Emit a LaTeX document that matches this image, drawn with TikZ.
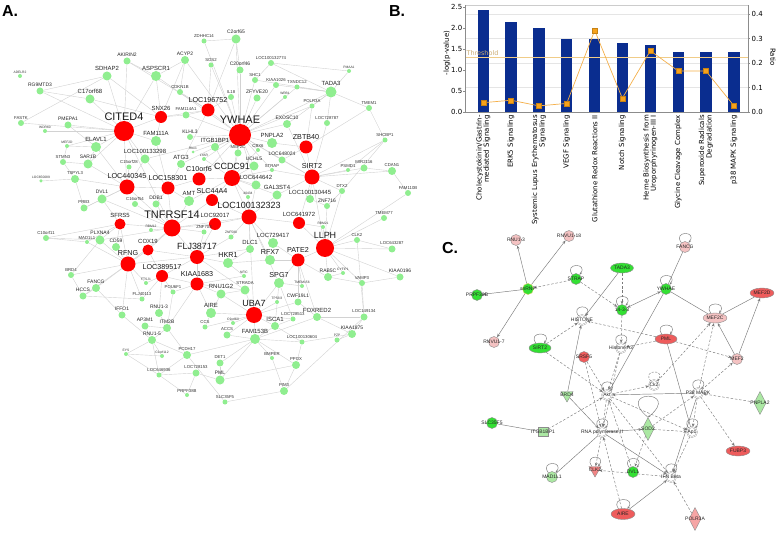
\documentclass[tikz,border=0pt]{standalone}
\usepackage{fontspec}
\setmainfont{Liberation Sans}
\newfontfamily\dvs{DejaVu Sans}
\usetikzlibrary{shapes.geometric,arrows.meta}
\pgfdeclarelayer{bg}
\pgfdeclarelayer{paper}
\pgfsetlayers{paper,bg,main}
\definecolor{gA}{HTML}{90EE90}
\definecolor{rA}{HTML}{FF0000}
\definecolor{eA}{HTML}{D2D2D2}
\definecolor{barb}{HTML}{0A2D8F}
\definecolor{ratioc}{HTML}{F5B04A}
\definecolor{ratiom}{HTML}{F7A21B}
\definecolor{thr}{HTML}{F0CC88}
\definecolor{gC}{HTML}{33E033}
\definecolor{lgC}{HTML}{ABE8A3}
\definecolor{pkC}{HTML}{F4C2C2}
\definecolor{rdC}{HTML}{EE5C5C}
\definecolor{edC}{HTML}{7A7A7A}
\tikzset{
 gnode/.style={circle, fill=gA, inner sep=0},
 rnode/.style={circle, fill=rA, inner sep=0},
 lt/.style={font=\fontsize{3.3}{3.6}\selectfont, inner sep=0.4bp, text=black!80},
 la/.style={font=\fontsize{4.3}{4.6}\selectfont, inner sep=0.4bp, text=black!80},
 lb/.style={font=\fontsize{5}{5.4}\selectfont, inner sep=0.4bp, text=black!85},
 lc/.style={font=\fontsize{6}{6.4}\selectfont, inner sep=0.4bp, text=black!85},
 ld/.style={font=\fontsize{7.2}{7.6}\selectfont, inner sep=0.4bp, text=black!90},
 le/.style={font=\fontsize{9}{9.4}\selectfont, inner sep=0.4bp, text=black!90},
 lf/.style={font=\fontsize{11}{11.4}\selectfont, inner sep=0.3bp, text=black!90},
 ea/.style={draw=eA, line width=0.4bp},
 ptitle/.style={font=\bfseries\fontsize{16}{16}\selectfont, inner sep=0},
 ccirc/.style={circle, draw=black!45, line width=0.4bp, minimum size=11bp, inner sep=0},
 cwhite/.style={circle, draw=black!40, line width=0.35bp, double=white, double distance=0.7bp, fill=white, minimum size=10bp, inner sep=0},
 cell/.style={ellipse, draw=black!45, line width=0.4bp, minimum width=24bp, minimum height=10bp, inner sep=0},
 cdia/.style={diamond, draw=black!45, line width=0.4bp, minimum width=12bp, minimum height=23bp, inner sep=0},
 ctri/.style={regular polygon, regular polygon sides=3, shape border rotate=180, draw=black!45, line width=0.4bp, minimum size=14bp, inner sep=0},
 ctrap/.style={rectangle, draw=black!45, line width=0.4bp, minimum width=10bp, minimum height=9bp, inner sep=0},
 cl5/.style={font=\fontsize{5}{5}\selectfont, inner sep=0, text=black!85},
 cen/.style={draw=edC, line width=0.45bp},
 ce/.style={cen, -{Stealth[length=3.5bp,width=2.8bp]}},
 ced/.style={ce, dash pattern=on 2.5bp off 1.8bp},
 cloop/.style={draw=edC, line width=0.45bp, -{Stealth[length=2.5bp,width=2.2bp]}},
 cat/.style={font=\dvs\fontsize{7}{7.4}\selectfont, rotate=90, anchor=east, align=right, inner sep=0},
 tk/.style={font=\dvs\fontsize{7}{7.4}\selectfont, inner sep=0.5bp},
 rmark/.style={rectangle, fill=ratiom, draw=ratiom!80!black, line width=0.3bp, minimum size=5bp, inner sep=0},
}
\newcommand\GN[6]{\node[gnode,minimum size=#4bp,label={[#5]above:#6}] (#1) at (#2,#3) {};}
\newcommand\RN[6]{\node[rnode,minimum size=#4bp,label={[#5]above:#6}] (#1) at (#2,#3) {};}
\newcommand\SL[2][]{\draw[cloop,#1] (#2.130) .. controls +(-9,-12) and +(9,-12) .. (#2.50);}
\newcommand\EA[2]{\foreach \t in {#2} {\draw[ea] (#1) -- (\t);}}
\begin{document}
\begin{tikzpicture}[x=1bp,y=-1bp]
\useasboundingbox (0,0) rectangle (778,533);
\begin{pgfonlayer}{paper}
\fill[white] (0,0) rectangle (778,533);
\end{pgfonlayer}
\node[ptitle] (tA) at (10,11) {A.};
\node[ptitle] (tB) at (397,11) {B.};
\node[ptitle] (tC) at (450,248) {C.};

% ---------------- Panel A ----------------
\GN{adel}{20}{76}{4}{lt}{ADELR2}
\GN{rg9}{40}{91}{7}{lb}{RG9MTD3}
\GN{sdh}{107}{76}{9}{lc}{SDHAP2}
\GN{akir}{127}{61}{7}{lb}{AKIRIN2}
\GN{acyp}{185}{60}{8}{lb}{ACYP2}
\GN{aspc}{156}{76}{10}{lc}{ASPSCR1}
\GN{c17}{90}{99}{9}{lc}{C17orf68}
\GN{cdkn}{180}{92}{6}{la}{CDKN1B}
\GN{fastk}{21}{123}{6}{la}{FASTK}
\GN{pmep}{68}{125}{7}{lb}{PMEPA1}
\GN{wdr}{45}{131}{4}{lt}{WDR60}
\RN{cited}{124}{131}{20}{lf}{CITED4}
\RN{snx}{161}{117}{12}{lc}{SNX26}
\GN{famA}{186}{115}{7}{la}{FAM114A1}
\GN{zdh}{204}{41}{5}{la}{ZDHHC14}
\GN{ctwo}{236}{39}{9}{lb}{C2orf65}
\GN{sos}{211}{65}{5}{la}{SOS2}
\GN{ctwenty}{240}{70}{7}{lb}{C20orf46}
\GN{locB}{271}{63}{6}{la}{LOC100132774}
\GN{pmaa}{349}{71}{4}{lt}{PMAA1}
\GN{shc}{255}{80}{6}{la}{SHC1}
\GN{kiaaA}{276}{85}{6}{la}{KIAA1026}
\GN{txn}{297}{87}{5}{la}{TXNDC12}
\GN{il}{231}{97}{6}{la}{IL18}
\GN{zfy}{257}{98}{7}{lb}{ZFYVE20}
\GN{wrb}{285}{97}{4}{lt}{WRB1}
\GN{tada}{331}{92}{11}{lc}{TADA3}
\GN{polr}{312}{106}{5}{la}{POLR3A}
\GN{tmemA}{369}{108}{6}{la}{TMEM1}
\RN{locC}{208}{110}{13}{ld}{LOC196752}
\RN{ywhae}{240}{135}{22}{lf}{YWHAE}
\GN{exo}{287}{124}{8}{lb}{EXOSC10}
\GN{locD}{327}{123}{6}{la}{LOC728787}
\GN{shcbp}{385}{140}{5}{la}{SHCBP1}
\GN{elavl}{96}{147}{10}{lc}{ELAVL1}
\GN{mefd}{67}{146}{4}{lt}{MEF2D}
\GN{fam111}{156}{141}{10}{lc}{FAM111A}
\GN{loc298}{145}{159}{9}{lc}{LOC100133298}
\GN{atg3}{181}{164}{8}{lc}{ATG3}
\GN{sar1b}{88}{164}{9}{lb}{SAR1B}
\GN{stmn3}{63}{162}{6}{la}{STMN3}
\GN{c15}{129}{167}{5}{la}{C15orf28}
\GN{tspyl3}{75}{179}{8}{la}{TSPYL3}
\GN{loc089}{41}{181}{3.5}{lt}{LOC650089}
\RN{loc345}{127}{187}{15}{ld}{LOC440345}
\RN{loc301}{168}{188}{13}{ld}{LOC158301}
\GN{amt}{189}{201}{10}{lc}{AMT}
\GN{dvl1}{102}{199}{9}{lb}{DVL1}
\GN{c16}{135}{204}{6}{la}{C16orf54}
\GN{ddb1}{156}{204}{7}{lb}{DDB1}
\GN{prb3}{84}{208}{7}{la}{PRB3}
\RN{sfrs5}{120}{224}{11}{lc}{SFRS5}
\RN{tnf}{172}{228}{17}{lf}{TNFRSF14}
\GN{rbm12}{151}{230}{4}{lt}{RBM12}
\GN{c10orf11}{46}{238}{6}{la}{C10orf11}
\GN{mad1l1}{87}{242}{4}{la}{MAD1L1}
\GN{plxna4}{100}{240}{9}{lb}{PLXNA4}
\GN{cd59}{116}{247}{8}{lb}{CD59}
\RN{cox19}{148}{250}{11}{lc}{COX19}
\GN{klhl3}{190}{137}{6}{lb}{KLHL3}
\GN{itgb}{215}{147}{8}{lc}{ITGB1BP1}
\GN{pnpla2}{272}{143}{10}{lc}{PNPLA2}
\RN{zbtb40}{306}{147}{13}{ld}{ZBTB40}
\GN{mef2c}{238}{153}{7}{la}{MEF2C}
\GN{cbx6}{258}{150}{4}{la}{CBX6}
\GN{rbx}{193}{152}{3}{lt}{Rbx1}
\GN{lyar}{204}{159}{4}{lt}{LYAR}
\GN{uchl5}{254}{166}{9}{lb}{UCHL5}
\GN{loc024}{282}{160}{7}{lb}{LOC648024}
\GN{strap}{272}{170}{4}{la}{STRAP}
\RN{sirt2}{312}{177}{15}{ld}{SIRT2}
\GN{psmd1}{348}{170}{4}{la}{PSMD1}
\GN{mir2116}{364}{168}{7}{la}{MIR2116}
\GN{cdan1}{392}{171}{8}{la}{CDAN1}
\GN{fam110b}{408}{193}{6}{la}{FAM110B}
\RN{c10orf6}{199}{179}{13}{ld}{C10orf6}
\RN{ccdc91}{232}{178}{16}{le}{CCDC91}
\GN{loc642}{256}{185}{9}{lc}{LOC644642}
\GN{dtx2}{342}{191}{6}{la}{DTX2}
\RN{slc44a4}{212}{200}{12}{ld}{SLC44A4}
\GN{n40434}{248}{197}{4}{lt}{40434}
\GN{gal3st4}{277}{195}{9}{lc}{GAL3ST4}
\GN{loc445}{310}{199}{8}{lc}{LOC100130445}
\GN{znf716}{327}{206}{6}{lb}{ZNF716}
\RN{loc323}{249}{217}{15}{le}{LOC100132323}
\RN{loc017}{215}{224}{12}{lc}{LOC92017}
\RN{loc972}{299}{223}{12}{lc}{LOC641972}
\GN{znf703}{204}{232}{5}{la}{ZNF703}
\GN{znf580}{231}{237}{5}{lt}{ZNF580}
\GN{rbm21}{323}{227}{4}{lt}{RBM21}
\GN{clk2}{357}{240}{6}{la}{CLK2}
\GN{loc417}{273}{243}{10}{lc}{LOC729417}
\GN{dlc1}{250}{249}{8}{lc}{DLC1}
\RN{llph}{325}{248}{18}{le}{LLPH}
\GN{tmem77}{384}{218}{6}{la}{TMEM77}
\GN{loc287}{392}{249}{7}{la}{LOC643287}
\GN{kiaa0196}{400}{277}{7}{lb}{KIAA0196}
\RN{rfng}{128}{264}{15}{ld}{RFNG}
\GN{brd4}{71}{275}{6}{la}{BRD4}
\RN{loc517}{162}{276}{12}{ld}{LOC389517}
\GN{fancg}{96}{288}{8}{lb}{FANCG}
\GN{hccs}{83}{296}{7}{lb}{HCCS}
\GN{ftsj1}{146}{283}{4}{lt}{FTSJ1}
\GN{pou6f1}{173}{292}{5}{la}{POU6F1}
\GN{flj40113}{142}{299}{5}{la}{FLJ40113}
\GN{iffo1}{122}{315}{7}{lb}{IFFO1}
\GN{rnu13}{159}{313}{8}{lb}{RNU1-3}
\GN{ap3m1}{145}{326}{7}{lb}{AP3M1}
\GN{itm2b}{167}{328}{8}{lb}{ITM2B}
\GN{rnu15}{152}{340}{8}{lb}{RNU1-5}
\GN{eys}{126}{354}{4}{lt}{EYS}
\GN{c1orf112}{162}{356}{4}{lt}{C1orf112}
\GN{loc936}{159}{375}{5}{la}{LOC646936}
\GN{prpf}{187}{395}{4}{la}{PRPF38B}
\RN{flj38717}{197}{257}{14}{le}{FLJ38717}
\RN{pate2}{298}{260}{13}{ld}{PATE2}
\GN{hkr1}{228}{263}{10}{ld}{HKR1}
\GN{rfx7}{270}{260}{10}{ld}{RFX7}
\RN{kiaa1683}{197}{284}{13}{ld}{KIAA1683}
\GN{nfic}{244}{276}{4}{lt}{NFIC}
\GN{spg7}{279}{283}{10}{ld}{SPG7}
\GN{rab5c}{328}{277}{8}{lb}{RAB5C}
\GN{cyfip1}{343}{273}{4}{lt}{CYFIP1}
\GN{vamp3}{362}{283}{6}{la}{VAMP3}
\GN{tmem156}{302}{286}{4}{lt}{TMEM156}
\GN{strada}{245}{290}{9}{la}{STRADA}
\GN{rnu1g2}{221}{294}{9}{lc}{RNU1G2}
\GN{tps}{277}{302}{4}{lt}{TP53I3}
\GN{cwf19l1}{298}{302}{7}{lb}{CWF19L1}
\RN{uba7}{254}{315}{16}{le}{UBA7}
\GN{aire}{211}{313}{10}{lc}{AIRE}
\GN{foxred2}{317}{317}{8}{lc}{FOXRED2}
\GN{c9orf60}{233}{323}{4}{lt}{C9orf60}
\GN{loc513}{293}{319}{5}{la}{LOC728513}
\GN{isca1}{275}{326}{8}{lc}{ISCA1}
\GN{loc134}{364}{317}{7}{la}{LOC149134}
\GN{kiaa1875}{352}{334}{8}{lb}{KIAA1875}
\GN{p2p}{337}{340}{5}{lt}{PZP}
\GN{ppox}{296}{365}{8}{la}{PPOX}
\GN{loc604}{302}{342}{5}{la}{LOC100130604}
\GN{fam153b}{255}{339}{10}{lc}{FAM153B}
\GN{accs}{227}{335}{7}{la}{ACCS}
\GN{ccs}{205}{327}{5}{la}{CCS}
\GN{pcdh17}{187}{355}{8}{la}{PCDH17}
\GN{det1}{220}{363}{7}{la}{DET1}
\GN{bmper}{272}{358}{4}{la}{BMPER}
\GN{loc153}{196}{373}{7}{la}{LOC728153}
\GN{pml}{220}{380}{9}{lb}{PML}
\GN{slc35f5}{225}{402}{5}{la}{SLC35F5}
\GN{pim3}{284}{391}{8}{la}{PIM3}

\begin{pgfonlayer}{bg}
\EA{cited}{akir,rg9,c17,fastk,pmep,wdr,snx,elavl,sar1b,loc298,fam111,loc345,aspc,tnf,mefd,sdh}
\EA{ywhae}{acyp,zdh,ctwo,sos,ctwenty,shc,kiaaA,il,zfy,tada,polr,exo,locC,famA,klhl3,itgb,pnpla2,mef2c,cbx6,lyar,uchl5,loc024,strap,ccdc91,atg3,c10orf6,loc642,sirt2,loc298,wrb,txn,aspc,rbx}
\EA{snx}{aspc,acyp,c17,famA,locC,fam111,sdh}
\EA{locC}{ctwo,sos,cdkn,famA,il,atg3,akir}
\EA{tada}{shc,locB,pmaa,tmemA,polr,exo,locD,txn,kiaaA}
\EA{sirt2}{zbtb40,locD,psmd1,mir2116,loc024,gal3st4,loc445,dtx2,shcbp,cdan1,loc972,llph,strap,exo}
\EA{zbtb40}{pnpla2,loc024,tmemA,polr}
\EA{ccdc91}{c10orf6,loc642,mef2c,uchl5,itgb,slc44a4,loc323,amt,gal3st4,lyar,cbx6,strap,n40434}
\EA{tnf}{loc345,loc301,ddb1,c16,sfrs5,rbm12,cox19,flj38717,loc017,amt,slc44a4,loc323,dvl1,znf703,plxna4,rfng}
\EA{loc345}{sar1b,c15,dvl1,tspyl3,loc298,loc301,elavl,prb3}
\EA{loc301}{atg3,ddb1,c10orf6,amt,fam111,loc298}
\EA{loc323}{slc44a4,loc017,loc972,gal3st4,loc642,znf580,dlc1,loc417,n40434,uba7,spg7,rfx7}
\EA{llph}{loc972,clk2,znf716,rbm21,pate2,loc287,tmem77,kiaa0196,rab5c,vamp3,cyfip1,fam110b,dtx2}
\EA{pate2}{rfx7,spg7,loc417,rab5c,tmem156,cwf19l1,foxred2}
\EA{flj38717}{hkr1,kiaa1683,dlc1,znf703,cox19,loc517,loc017,rfng,strada,znf580}
\EA{kiaa1683}{rnu1g2,loc517,pou6f1,strada,nfic,aire,itm2b}
\EA{uba7}{rnu1g2,aire,isca1,fam153b,spg7,strada,cwf19l1,tps,c9orf60,ccs,accs,loc513}
\EA{rfng}{brd4,fancg,cd59,plxna4,cox19,hccs,flj40113,ftsj1,sfrs5,iffo1,mad1l1}
\EA{loc517}{ftsj1,pou6f1,flj40113,rnu13,cox19}
\EA{fam153b}{accs,isca1,det1,pcdh17,loc604,bmper,foxred2,ppox,pml}
\EA{sfrs5}{cd59,plxna4,dvl1,c10orf11,mad1l1}
\EA{itm2b}{rnu13,ap3m1,rnu15,pou6f1,pcdh17}
\EA{rnu15}{ap3m1,eys,c1orf112,iffo1,pcdh17,loc936}
\EA{eys}{c1orf112,loc936}
\EA{loc936}{loc153,pcdh17}
\EA{pml}{ppox,loc153,det1}
\EA{slc35f5}{pim3,pcdh17}
\EA{pim3}{ppox,loc134,bmper}
\EA{prpf}{loc153,loc936}
\EA{loc134}{foxred2,kiaa1875,clk2,vamp3}
\EA{kiaa1875}{p2p,foxred2,loc604}
\EA{hccs}{fancg,brd4,flj40113}
\EA{fancg}{iffo1}
\EA{brd4}{plxna4}
\EA{c10orf11}{plxna4,mad1l1}
\EA{prb3}{dvl1,tspyl3}
\EA{tspyl3}{loc089,stmn3}
\EA{stmn3}{mefd,sar1b}
\EA{elavl}{sar1b,mefd,pmep}
\EA{rbm21}{loc972}
\EA{clk2}{loc287}
\EA{cdan1}{mir2116,fam110b}
\EA{shcbp}{psmd1,dtx2}
\EA{tmemA}{shcbp}
\EA{kiaa0196}{vamp3}
\EA{znf716}{dtx2,loc445}
\EA{rg9}{sdh,c17}
\EA{fastk}{sdh}
\EA{akir}{aspc}
\EA{acyp}{aspc,cdkn}
\EA{ctwo}{zdh,ctwenty}
\EA{shc}{locB}
\EA{locB}{pmaa}
\EA{aire}{ccs,rnu1g2}
\EA{rnu1g2}{strada}
\EA{hkr1}{dlc1,rfx7,nfic}
\EA{spg7}{tmem156,isca1,loc513}
\EA{cwf19l1}{foxred2}
\EA{loc604}{ppox}
\EA{rab5c}{cyfip1,vamp3}
\EA{isca1}{loc513,loc604}
\end{pgfonlayer}

% ---------------- Panel B ----------------
\foreach \v in {0.1,0.2,0.3,0.4} {\draw[black!10, line width=0.3bp] (465,{112-245*\v}) -- (748,{112-245*\v});}
\draw[black!20, line width=0.4bp] (465,5) -- (748,5);
\foreach \x/\h in {483.3/2.42,511/2.14,539/2.0,566.7/1.73,594.7/1.73,622.3/1.65,650.3/1.6,678.3/1.43,706/1.43,734/1.43}
 {\fill[barb] ({\x-5.6},112) rectangle ({\x+5.6},{112-42*\h});}
\draw[thr, line width=0.7bp] (465,57) -- (748,57);
\node[font=\dvs\fontsize{6.5}{7}\selectfont, text=thr!85!black, inner sep=0] (thrl) at (482.5,53.3) {Threshold};
\draw[black!45, line width=0.5bp] (465,5) -- (465,112) -- (748,112) -- (748,5);
\foreach \v [count=\i] in {0.0,0.5,1.0,1.5,2.0,2.5} {
 \draw[black!45, line width=0.4bp] (463,{112-42*\v}) -- (465,{112-42*\v});
 \node[tk, anchor=east] (yl\i) at (463,{112-42*\v}) {\v};}
\foreach \v [count=\i] in {0.0,0.1,0.2,0.3,0.4} {
 \draw[black!45, line width=0.4bp] (748,{112-245*\v}) -- (750,{112-245*\v});
 \node[tk, anchor=west] (yr\i) at (751,{112-245*\v}) {\v};}
\node[tk, rotate=90] (ylab) at (447,53) {-log(p-value)};
\node[tk, rotate=-90] (rlab) at (773,57) {Ratio};
\foreach \x/\r [count=\i] in {483.3/0.038,511/0.048,539/0.025,566.7/0.035,594.7/0.333,622.3/0.056,650.3/0.25,678.3/0.167,706/0.167,734/0.025}
 {\coordinate (r\i) at (\x,{112-245*\r});}
\draw[ratioc, line width=0.7bp] (r1) -- (r2) -- (r3) -- (r4) -- (r5) -- (r6) -- (r7) -- (r8) -- (r9) -- (r10);
\foreach \i in {1,...,10} {\node[rmark] (m\i) at (r\i) {};}
\node[cat] (k1) at (483.3,115) {Cholecystokinin/Gastrin-\\mediated Signaling};
\node[cat] (k2) at (511,115) {ERK5 Signaling};
\node[cat] (k3) at (539,115) {Systemic Lupus Erythematosus\\Signaling};
\node[cat] (k4) at (566.7,115) {VEGF Signaling};
\node[cat] (k5) at (594.7,115) {Glutathione Redox Reactions II};
\node[cat] (k6) at (622.3,115) {Notch Signaling};
\node[cat] (k7) at (650.3,115) {Heme Biosynthesis from\\Uroporphyrinogen-III I};
\node[cat] (k8) at (678.3,115) {Glycine Cleavage Complex};
\node[cat] (k9) at (706,115) {Superoxide Radicals\\Degradation};
\node[cat] (k10) at (734,115) {p38 MAPK Signaling};

% ---------------- Panel C ----------------
\node[ccirc, fill=pkC, label={[cl5]center:RNU1-3}] (Crnu13) at (516,240) {};
\node[ccirc, fill=pkC, label={[cl5]center:RNVU1-18}] (Crnvu18) at (569,236) {};
\node[ccirc, fill=gC, label={[cl5]center:PRPF38B}] (Cprpf) at (477,295) {};
\node[ccirc, fill=gC, draw=yellow!60!gray, label={[cl5]center:snRNP}] (Csn) at (528,289) {};
\node[ccirc, fill=pkC, label={[cl5]center:RNVU1-7}] (Crnvu7) at (494,342) {};
\node[ccirc, fill=gC, label={[cl5]center:STRAP}] (Cstrap) at (576,279) {};
\node[cell, fill=gC, minimum width=22bp, label={[cl5]center:SIRT2}] (Csirt2) at (540,348) {};
\node[cwhite, label={[cl5]center:HISTONE}] (Chist) at (582,320) {};
\node[ccirc, fill=rdC, label={[cl5]center:SRSF5}] (Csrsf5) at (584,357) {};
\node[cell, fill=gC, minimum width=23bp, label={[cl5]center:TADA3}] (Ctada3) at (622,268) {};
\node[ccirc, fill=pkC, label={[cl5]center:FANCG}] (Cfancg) at (685,247) {};
\node[ccirc, fill=gC, label={[cl5]center:YWHAE}] (Cywhae) at (666,289) {};
\node[ccirc, fill=gC, label={[cl5]center:14-3-3}] (C1433) at (622,310) {};
\node[cell, fill=rdC, label={[cl5]center:MEF2D}] (Cmef2d) at (762,293) {};
\node[cell, fill=pkC, label={[cl5]center:MEF2C}] (Cmef2c) at (715,318) {};
\node[cell, fill=rdC, minimum width=22bp, label={[cl5]center:PML}] (Cpml) at (666,339) {};
\node[cwhite, label={[cl5]center:Histone h3}] (Ch3) at (621,348) {};
\node[ccirc, fill=pkC, label={[cl5]center:MEF2}] (Cmef2) at (737,359) {};
\node[ctri, fill=lgC, label={[cl5]center:BRD4}] (Cbrd4) at (567,395) {};
\node[cwhite, label={[cl5]center:Akt}] (Cakt) at (607,395) {};
\node[cwhite, label={[cl5]center:Ck2}] (Cck2) at (654,385) {};
\node[cwhite, label={[cl5]center:P38 MAPK}] (Cp38) at (698,393) {};
\node[cdia, fill=lgC, label={[cl5]center:PNPLA2}] (Cpnpla2) at (760,403) {};
\node[ccirc, fill=gC, label={[cl5]center:SLC35F5}] (Cslc) at (492,423) {};
\node[ctrap, fill=lgC, label={[cl5]center:ITGB1BP1}] (Citgb) at (543,432) {};
\node[cwhite, label={[cl5]center:RNA polymerase II}] (Crna) at (602,432) {};
\node[cdia, fill=lgC, label={[cl5]center:SOD2}] (Csod2) at (648,429) {};
\node[cwhite, label={[cl5]center:Ap1}] (Cap1) at (692,432) {};
\node[cell, fill=rdC, label={[cl5]center:FUBP3}] (Cfubp3) at (738,451) {};
\node[ccirc, fill=lgC, label={[cl5]center:MAD1L1}] (Cmad) at (552,477) {};
\node[ctri, fill=rdC!75, label={[cl5]center:CLK2}] (Cclk2) at (595,470) {};
\node[ccirc, fill=gC, label={[cl5]center:DVL1}] (Cdvl1) at (633,472) {};
\node[cwhite, label={[cl5]center:IFN Beta}] (Cifnb) at (671,477) {};
\node[cell, fill=rdC, minimum height=11bp, label={[cl5]center:AIRE}] (Caire) at (623,514) {};
\node[cdia, fill=pkC!85!red, label={[cl5]center:POLR3A}] (Cpolr) at (695,519) {};

\foreach \n in {Cstrap,Csirt2,Chist,Cfancg,Cywhae,C1433,Cmef2c,Cpml,Ch3,Cakt,Cp38,Crna,Cap1,Cmad,Cclk2,Cdvl1,Cifnb,Caire} {\SL{\n}}
\SL[dash pattern=on 2bp off 1.5bp]{Cck2}
\draw[cloop] (Csod2.north) .. controls +(-34,-28) and +(34,-28) .. (Csod2.north);

\begin{pgfonlayer}{bg}
\draw[ce] (Csn) -- (Crnu13);
\draw[ce] (Csn) -- (Crnvu18);
\draw[ce] (Csn) -- (Cprpf);
\draw[ce] (Csn) -- (Crnvu7);
\draw[ced] (Cstrap) -- (Csn);
\draw[ce] (Ctada3) -- (Chist);
\draw[ced] (Ctada3) -- (C1433);
\draw[ce, {Stealth[length=3.5bp,width=2.8bp]}-{Stealth[length=3.5bp,width=2.8bp]}] (Cywhae) -- (C1433);
\draw[cen] (Cfancg) -- (Cywhae);
\draw[cen] (Cywhae) -- (Cmef2c);
\draw[cen] (Cmef2c) -- (Cmef2d);
\draw[ce] (Cmef2) -- (Cmef2d);
\draw[ce] (Cmef2) -- (Cmef2c);
\draw[cen] (Cywhae) -- (Cakt);
\draw[ced] (C1433) -- (Ch3);
\draw[ced] (Cstrap) -- (C1433);
\draw[ced] (Cpml) -- (Chist);
\draw[ced] (Cpml) -- (Ch3);
\draw[ced] (Cpml) -- (Cmef2);
\draw[ced] (Cp38) -- (Cmef2c);
\draw[ced] (Cck2) -- (Cmef2c);
\draw[ced] (Cp38) -- (Cmef2);
\draw[ced] (Csirt2) -- (Chist);
\draw[ced] (Csirt2) -- (Cakt);
\draw[ce] (Cbrd4) -- (Chist);
\draw[ce] (Cp38) -- (Cakt);
\draw[ced] (Cpnpla2) -- (Cp38);
\draw[ced] (Cp38) -- (Cfubp3);
\draw[ced] (Cp38) -- (Cap1);
\draw[ced] (Cakt) -- (Cck2);
\draw[ced] (Citgb) -- (Cakt);
\draw[cen] (Cslc) -- (Citgb);
\draw[ce] (Cbrd4) -- (Crna);
\draw[ced] (Cakt) -- (Crna);
\draw[cen] (Crna) -- (Cmad);
\draw[ce] (Crna) -- (Cifnb);
\draw[ce] (Crna) -- (Csod2);
\draw[ced] (Csod2) -- (Cap1);
\draw[ced] (Crna) -- (Cclk2);
\draw[ced] (Caire) -- (Crna);
\draw[ce] (Caire) -- (Cifnb);
\draw[ced] (Cpolr) -- (Cifnb);
\draw[ced] (Cifnb) -- (Cclk2);
\draw[ced] (Cap1) -- (Cifnb);
\draw[ced] (Cdvl1) -- (Cakt);
\draw[ced] (Csod2) -- (Cdvl1);
\draw[ced] (Cakt) -- (Cifnb);
\draw[ce] (Cp38) -- (Cifnb);
\draw[ced] (Cakt) -- (Cap1);
\draw[ced] (Ch3) -- (Cakt);
\draw[ced] (Ch3) -- (Crna);
\draw[cen] (Cpml) -- (Cap1);
\draw[ced] (Csrsf5) -- (Cakt);
\draw[ced] (Csrsf5) -- (Crna);
\draw[ced] (Csod2) -- (Cp38);
\end{pgfonlayer}
\end{tikzpicture}
\end{document}
